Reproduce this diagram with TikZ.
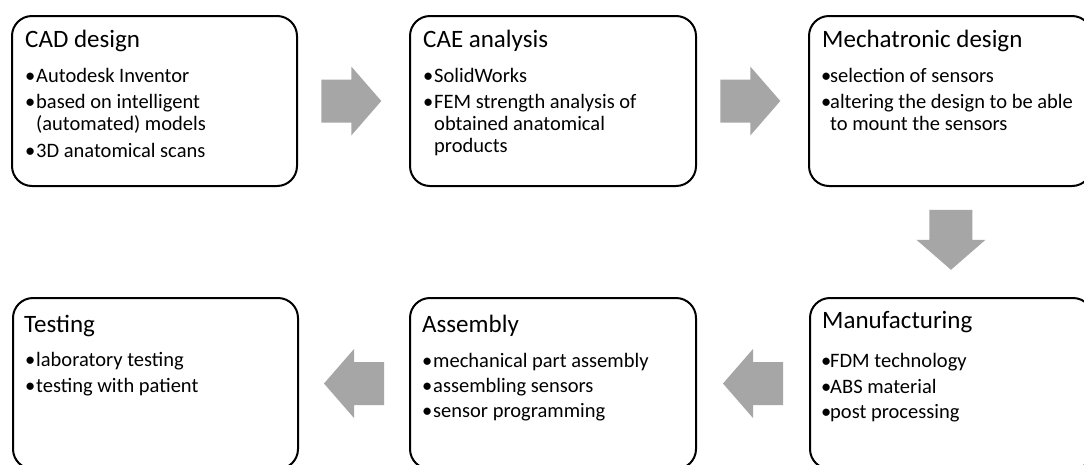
\documentclass[tikz,border=0pt]{standalone}
\usepackage{fontspec}
\setmainfont{Carlito}
\definecolor{arrowgray}{RGB}{166,166,166}
\newcommand{\bul}{\makebox[9pt][l]{\kern-2pt•}}
\newcommand{\bulb}{\makebox[7pt][l]{\kern-2pt•}}
\tikzset{
  stagebox/.style={draw=black, line width=2pt, rounded corners=20pt, anchor=north west, inner sep=0pt},
  titletxt/.style={anchor=base west, inner sep=0pt, font=\fontsize{25}{30}\selectfont},
  itemtxt/.style={anchor=base west, inner sep=0pt, font=\fontsize{20.5}{24}\selectfont},
  blockarrow/.pic={\fill[arrowgray] (-30,-21.5) -- (0,-21.5) -- (0,-34.5) -- (30,0) -- (0,34.5) -- (0,21.5) -- (-30,21.5) -- cycle;}
}
\begin{document}
\begin{tikzpicture}[x=1pt,y=-1pt]
\clip (0,0) rectangle (1084,464);
\fill[white] (0,0) rectangle (1084,464);
% boxes
\node[stagebox, minimum width=285pt, minimum height=170pt] (b1) at (11,15) {};
\node[stagebox, minimum width=286pt, minimum height=170pt] (b2) at (409,15) {};
\node[stagebox, minimum width=283pt, minimum height=170pt] (b3) at (808,15) {};
\node[stagebox, minimum width=285pt, minimum height=171pt] (b4) at (12,297) {};
\node[stagebox, minimum width=286pt, minimum height=171pt] (b5) at (409,297) {};
\node[stagebox, minimum width=283pt, minimum height=171pt] (b6) at (809,297) {};
% box 1
\node[titletxt] (t1) at (25,47) {CAD design};
\node[itemtxt] (t1a) at (27,82) {\bul Autodesk Inventor};
\node[itemtxt] (t1b) at (27,108) {\bul based on intelligent};
\node[itemtxt] (t1c) at (36,130) {(automated) models};
\node[itemtxt] (t1d) at (27,157) {\bul 3D anatomical scans};
% box 2
\node[titletxt] (t2) at (423,47) {CAE analysis};
\node[itemtxt] (t2a) at (425,82) {\bul SolidWorks};
\node[itemtxt] (t2b) at (425,108) {\bul FEM strength analysis of};
\node[itemtxt] (t2c) at (434,130) {obtained anatomical};
\node[itemtxt] (t2d) at (434,152) {products};
% box 3
\node[titletxt] (t3) at (822,47) {Mechatronic design};
\node[itemtxt] (t3a) at (823,82) {\bulb selection of sensors};
\node[itemtxt] (t3b) at (823,108) {\bulb altering the design to be able};
\node[itemtxt] (t3c) at (830,130) {to mount the sensors};
% box 4
\node[titletxt] (t4) at (24,332) {Testing};
\node[itemtxt] (t4a) at (27,366) {\bul laboratory testing};
\node[itemtxt] (t4b) at (27,392) {\bul testing with patient};
% box 5
\node[titletxt] (t5) at (422,332) {Assembly};
\node[itemtxt] (t5a) at (424,367) {\bul mechanical part assembly};
\node[itemtxt] (t5b) at (424,392) {\bul assembling sensors};
\node[itemtxt] (t5c) at (424,417) {\bul sensor programming};
% box 6
\node[titletxt] (t6) at (822,328) {Manufacturing};
\node[itemtxt] (t6a) at (823,367) {\bulb FDM technology};
\node[itemtxt] (t6b) at (823,393) {\bulb ABS material};
\node[itemtxt] (t6c) at (823,418) {\bulb post processing};
% arrows
\path (b1.east) -- (b2.west) coordinate[pos=0.48] (m12);
\path (b2.east) -- (b3.west) coordinate[pos=0.48] (m23);
\path (b3.south) -- (b6.north) coordinate[pos=0.48] (m36);
\path (b6.west) -- (b5.east) coordinate[pos=0.5] (m65);
\path (b5.west) -- (b4.east) coordinate[pos=0.5] (m54);
\pic at (m12) {blockarrow};
\pic at (m23) {blockarrow};
\pic[rotate=-90] at (m36) {blockarrow};
\pic[rotate=180] at (m65) {blockarrow};
\pic[rotate=180] at (m54) {blockarrow};
\end{tikzpicture}
\end{document}
